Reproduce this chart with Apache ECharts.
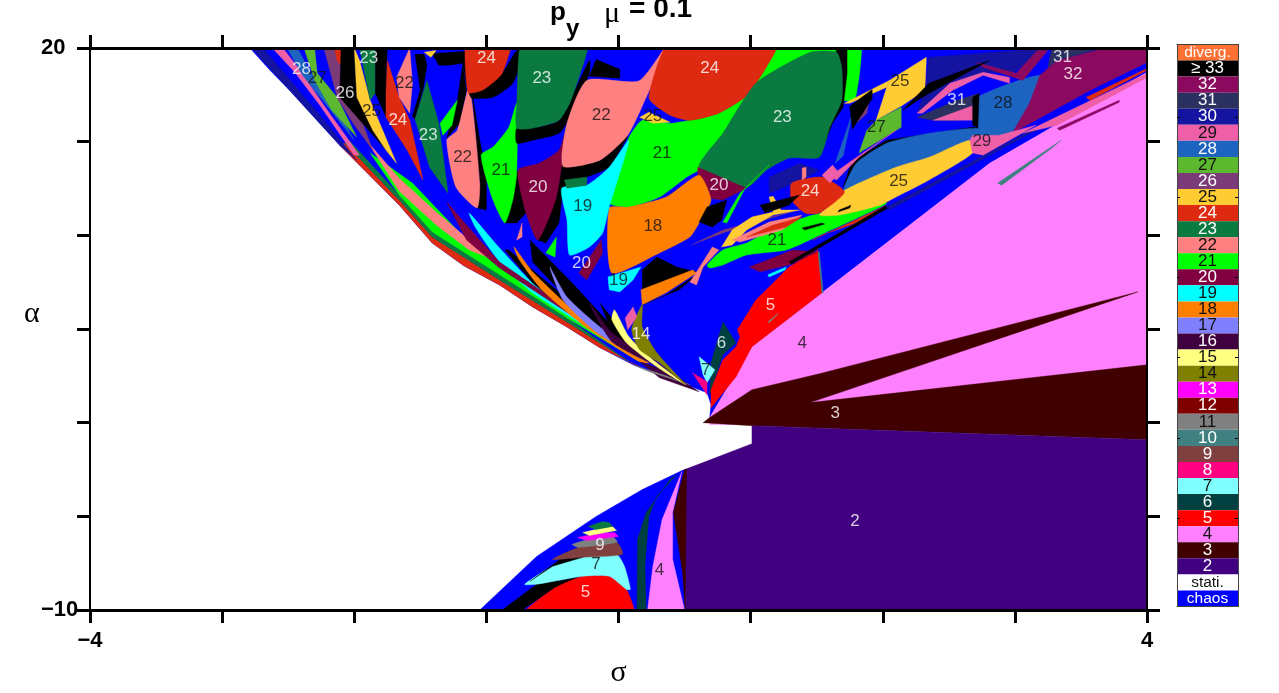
<!DOCTYPE html>
<html><head><meta charset="utf-8">
<style>html,body{margin:0;padding:0;background:#fff}#c{width:1279px;height:693px}</style>
<script src="https://cdn.jsdelivr.net/npm/echarts@6/dist/echarts.min.js"></script>
</head><body><div id="c"></div>
<script>
// legend (top to bottom)
const legendLabels=['diverg.','≥ 33','32','31','30','29','28','27','26','25','24','23','22','21','20','19','18','17','16','15','14','13','12','11','10','9','8','7','6','5','4','3','2','stati.','chaos'];
const legendColors=['#ff7033','#000000','#8b0a5f','#2a3060','#1414a0','#ee5fa7','#1c64c0','#5cb82e','#7b3a78','#ffcc33','#dd2a10','#0a7a40','#ff8080','#00ff00','#800040','#00ffff','#ff8000','#8080ff','#400040','#ffff80','#808000','#ff00ff','#800000','#808080','#408080','#804040','#ff0080','#80ffff','#004040','#ff0000','#ff80ff','#400000','#400080','#ffffff','#0000ff'];
const legendDark=['29','27','25','22','21','19','18','17','15','14','11','7','4','stati.'];
const legendTicks=['30','25','20','15','10','5'];
// axes
const sigmaRange=[-4,4], alphaRange=[-10,20];
const sigmaShown=[-4,4], alphaShown=[20,-10];

// basin outlines, as [sigma, alpha]
const chaosUpper=[[-2.79,20],[-2.64,18.83],[-2.49,17.74],[-2.11,14.81],[-1.66,11.62],[-1.41,9.59],[-1.17,8.37],[-0.9,7.35],[-0.65,6.18],[-0.39,5.11],[-0.14,4],[0.11,3.09],[0.36,2.4],[0.51,2.02],[0.67,1.6],[0.7,0.96],[0.69,0.27],[1.01,4.05],[1.54,6.93],[2.81,13.85],[4,18.7],[4,20]];
const pink4Right=[[0.69,0.27],[1.01,4.05],[1.54,6.93],[2.81,13.85],[4,18.7],[4,-0.1],[0.69,-0.1]];
const dark3=[[0.64,0],[0.69,0.27],[1.01,1.76],[1.52,2.61],[3.93,6.98],[1.45,1.07],[4,3.09],[4,-0.91],[1.01,-0.16]];
const period2=[[1.01,-0.16],[4,-0.91],[4,-10],[0.5,-10],[0.5,-2.5],[0.64,-2.13],[1.01,-1.12]];
const chaosLower=[[-1.05,-10],[-0.62,-7.14],[-0.17,-5.01],[0.18,-3.57],[0.48,-2.56],[0.5,-2.5],[0.5,-10]];
const pink4Lower=[[0.22,-10],[0.26,-7.67],[0.33,-5.17],[0.48,-2.61],[0.41,-4.8],[0.41,-7.3],[0.5,-10]];
const stripeLower=[[0.5,-2.5],[0.515,-2.5],[0.505,-10],[0.485,-8],[0.415,-4.8]];
const dark6Lower=[[0.14,-10],[0.144,-6.23],[0.21,-4.8],[0.39,-3.04],[0.44,-2.77],[0.29,-3.94],[0.23,-5.01],[0.2,-7.67],[0.21,-10]];
const stripeLeft=[[-0.88,-10],[-0.62,-8.63],[-0.27,-8.2],[-0.5,-8.9],[-0.73,-10]];
const red5Lower=[[-0.76,-10.5],[-0.5,-8.9],[-0.27,-8.2],[-0.07,-8.2],[0.06,-8.9],[0.12,-10.5]];
const cyan7Lower=[[-0.71,-8.63],[-0.5,-7.67],[-0.27,-7.19],[-0.015,-7.03],[0.045,-7.67],[0.09,-8.9],[0.06,-8.9],[-0.07,-8.2],[-0.27,-8.2],[-0.62,-8.63]];
const blackLower=[[-0.67,-8.47],[-0.37,-6.93],[-0.3,-6.66],[-0.27,-7.19],[-0.5,-7.67]];
const brown9=[[-0.5,-7.3],[-0.3,-6.66],[-0.015,-6.39],[0.03,-7.03],[-0.27,-7.19]];
const gray11=[[-0.35,-6.5],[-0.17,-6.13],[-0.045,-6.07],[-0.01,-6.39],[-0.3,-6.66]];
const mag13=[[-0.31,-6.13],[-0.16,-5.91],[-0.03,-5.86],[0,-6.07],[-0.24,-6.29]];
const yellow15Lower=[[-0.27,-5.86],[-0.14,-5.65],[-0.045,-5.54],[-0.015,-5.75],[-0.22,-6.02]];
const green23Lower=[[-0.23,-5.54],[-0.12,-5.27],[-0.07,-5.33],[-0.045,-5.54],[-0.17,-5.7]];
// fan along the upper boundary
const edgeOuter=[[-2.11,14.81],[-1.66,11.62],[-1.41,9.59],[-1.17,8.37],[-0.9,7.35],[-0.65,6.18],[-0.39,5.11],[-0.14,4],[0.16,2.98],[0.08,3.25],[-0.39,5.38],[-0.9,7.62],[-1.41,9.91],[-1.66,11.88],[-2.07,14.92]];
const edgeInner=[[-2.07,14.92],[-1.66,11.88],[-1.41,9.91],[-0.9,7.62],[-0.39,5.38],[0.08,3.25],[-0.39,5.59],[-0.9,7.89],[-1.41,10.18],[-1.66,12.15],[-2.04,15.08]];
const fan21=[[-1.88,14.4],[-1.56,12.79],[-1.15,9.75],[-0.9,8.26],[-0.65,7.09],[-0.27,5.38],[0.16,3.25],[-0.39,5.59],[-0.9,7.89],[-1.41,10.18],[-1.66,12.15]];
const fan22=[[-1.9,15],[-1.66,13.05],[-1.38,11.24],[-1.13,9.75],[-0.9,8.58],[-1.13,9.22],[-1.38,10.55],[-1.66,12.36]];
const fan20=[[-1.3,11.77],[-1.05,9.75],[-0.9,8.58],[-0.65,7.36],[-0.27,5.59],[0.16,3.36],[-0.27,5.33],[-0.65,7.09],[-0.9,8.26],[-1.15,9.75]];
const fan19=[[-1.13,11.19],[-0.9,9.32],[-0.65,7.46],[-0.27,5.38],[0.16,3.36],[-0.27,5.22],[-0.65,6.93],[-0.9,8.58],[-1.08,10.39]];
const fanBlackA=[[-0.83,9.22],[-0.65,8.15],[-0.27,5.91],[0.16,3.46],[-0.27,5.38],[-0.65,7.46],[-0.86,9.22]];
const fan18=[[-0.79,9.38],[-0.65,8.05],[-0.39,6.29],[-0.07,4.42],[0.23,3.2],[0.16,3.25],[-0.27,5.22],[-0.58,7.09],[-0.75,8.68]];
const fanBlackB=[[-0.67,9.75],[-0.35,7.46],[0.01,4.69],[-0.14,4.96],[-0.45,7.09],[-0.65,8.58]];
const fan17=[[-0.52,8.31],[-0.39,6.71],[-0.14,5.11],[0.11,3.89],[0.23,3.25],[0.16,3.46],[-0.17,4.85],[-0.42,6.55]];
const fanBlackC=[[-0.14,6.39],[0.05,4.69],[0.23,3.62],[-0.03,4.53]];
const fan16=[[-0.22,6.39],[-0.05,4.8],[0.21,3.62],[0.39,2.72],[0.16,3.46],[-0.05,4.32],[-0.17,5.65]];
const tail16=[[0.16,3.25],[0.39,2.72],[0.61,1.65],[0.31,2.4]];
const tail11=[[0.11,3.09],[0.36,2.5],[0.54,2.02],[0.23,2.72]];
// top-left lobes
const navy30a=[[-2.78,20],[-2.69,20],[-2.26,16.41],[-1.98,14.01],[-2.11,14.81]];
const pink29a=[[-2.62,20],[-2.54,20],[-2.41,18.81],[-2.23,16.94],[-1.96,14.28],[-2,14.28],[-2.26,16.94],[-2.45,18.7]];
const blue28a=[[-2.51,20],[-2.43,20],[-2.3,18.27],[-2.11,16.52],[-2,15.08],[-2.24,17.21],[-2.39,18.54]];
const green27a=[[-2.38,20],[-2.3,20],[-2.28,18.65],[-2.13,17.37],[-1.98,15.24],[-2.17,16.68],[-2.3,18.27]];
const purple26a=[[-2.23,20],[-2.15,20],[-2.09,18.65],[-2,17.21],[-1.86,14.55],[-2.01,15.98],[-2.13,17.37]];
const red24a=[[-2.15,20],[-2.1,20],[-2.06,18.65],[-2.13,19.34]];
const blackA=[[-2.1,20],[-2,20],[-1.98,17.37],[-1.86,15.61],[-1.76,14.55],[-2.11,17.37]];
const yellow25a=[[-2,20],[-1.96,19.34],[-1.88,17.21],[-1.68,13.85],[-1.76,14.55],[-1.86,15.61],[-1.98,17.37]];
const green23a=[[-1.96,20],[-1.84,20],[-1.84,17.58],[-1.88,17.21]];
const blackB=[[-1.84,20],[-1.75,20],[-1.76,17.58],[-1.76,16.3],[-1.84,17.58]];
const red24b=[[-1.75,19.34],[-1.66,17.37],[-1.58,16.14],[-1.48,12.95],[-1.6,14.55],[-1.76,16.3],[-1.76,17.58]];
const salmon22a=[[-1.58,20],[-1.56,18.12],[-1.58,16.52],[-1.66,17.37],[-1.68,18.43]];
const blackC=[[-1.54,16.2],[-1.48,17.74],[-1.45,19.08],[-1.47,19.66],[-1.54,19.66],[-1.5,17.74],[-1.56,16.36]];
const green23b=[[-1.45,18.27],[-1.36,15.98],[-1.29,12.25],[-1.43,13.64],[-1.54,16.2]];
const blackS=[[-1.41,19.71],[-1.14,19.82],[-1.14,17.74],[-1.18,19.18],[-1.28,19.08],[-1.36,19.08]];
const blackT=[[-1.22,17.21],[-1.18,19.08],[-1.15,17.74],[-1.2,15.98],[-1.3,15.2]];
const green21a=[[-1.22,17.21],[-1.26,15.88],[-1.33,15.34],[-1.35,15.98]];
const blackD=[[-1.11,17.74],[-1.05,12.79],[-1.07,11.46],[-1,11.35],[-1,13.32],[-1.05,15.08]];
const salmon22b=[[-1.13,17.9],[-1.05,12.79],[-1.07,11.46],[-1.23,12.57],[-1.3,15.08],[-1.22,15.61]];
const blackE=[[-1.13,17.64],[-1.03,17.74],[-0.88,18.65],[-0.77,19.87],[-0.71,19.87],[-0.8,18.12],[-0.95,17.37],[-1.11,17.32]];
const red24c=[[-1.14,21],[-0.8,21],[-0.88,18.65],[-1.03,17.74],[-1.14,17.64]];
const yellow25b=[[-1.47,19.77],[-1.38,19.87],[-1.42,19.5]];
const blackG=[[-0.77,13.32],[-0.76,13.48],[-0.7,11.19],[-0.77,10.66],[-0.86,10.66]];
const green21b=[[-0.77,17.05],[-0.77,13.32],[-0.8,11.88],[-0.86,10.66],[-0.95,11.88],[-1.04,14.28],[-0.95,14.71],[-0.83,15.77]];
const blackH=[[-0.77,15.72],[-0.65,15.72],[-0.45,16.14],[-0.22,19.34],[-0.22,18.65],[-0.35,16.52],[-0.45,15.45],[-0.65,15.08],[-0.77,14.92]];
const green23c=[[-0.71,21],[-0.22,21],[-0.35,17.37],[-0.45,16.14],[-0.65,15.72],[-0.77,15.72],[-0.77,17.05]];
const blackI=[[-0.61,9.75],[-0.47,12.04],[-0.39,15.82],[-0.42,12.57],[-0.45,10.66],[-0.55,9.59]];
const maroon20a=[[-0.39,15.82],[-0.47,12.04],[-0.61,9.75],[-0.7,11.19],[-0.76,13.48],[-0.6,13.85],[-0.45,14.55]];
const blackU=[[-0.22,18.49],[0.01,18.38],[0.01,18.86],[-0.17,19.39]];
const blackJ=[[-0.42,13.69],[-0.14,14.01],[0.07,15.34],[-0.07,13.64],[-0.24,13.11],[-0.42,12.57]];
const salmon22c=[[-0.24,18.27],[0.16,18.27],[0.44,21],[0.21,17.37],[0.07,15.34],[-0.14,14.01],[-0.42,13.69],[-0.39,15.98]];
const green21c=[[0.08,15.24],[0.18,16.14],[0.39,15.98],[0.54,16.14],[0.76,16.52],[0.99,17.58],[1.29,21],[1.82,21],[1.79,17.21],[1.67,17.21],[1.52,16.68],[0.54,13.21],[0.31,12.04],[0.08,11.51],[-0.07,11.72],[-0.015,13.32]];
const red24d=[[0.44,21],[1.24,21],[0.99,17.58],[0.76,16.52],[0.54,16.14],[0.39,16.41],[0.23,17.37]];
const yellow25c=[[0.16,16.3],[0.23,16.57],[0.39,16.04],[0.26,15.98]];
const blackK=[[1.65,20],[1.73,20],[1.73,18.65],[1.7,16.84],[1.62,15.98],[1.52,14.17],[1.56,15.61]];
const green23d=[[1.45,19.77],[1.65,19.77],[1.69,18.97],[1.69,17.21],[1.6,15.77],[1.52,14.17],[1.29,14.12],[1.12,13.48],[0.97,12.57],[0.61,13.64],[0.79,15.45],[1.04,18.12]];
const maroon20b=[[0.6,13.64],[0.97,12.52],[0.79,11.88],[0.67,11.99],[0.6,12.57]];
const orange18a=[[-0.07,11.46],[0.08,11.51],[0.36,12.04],[0.61,13.21],[0.7,11.88],[0.61,10.66],[0.54,9.91],[0.31,9.06],[-0.05,7.99]];
const cyan19a=[[-0.43,12.52],[-0.24,12.68],[-0.07,13.64],[0.08,15.08],[-0.07,11.51],[-0.12,10.12],[-0.22,9.38],[-0.37,8.95],[-0.39,10.82]];
const green23e=[[-0.41,12.95],[-0.24,13.11],[-0.24,12.68],[-0.39,12.52]];
const cyan19b=[[-0.08,7.78],[0.17,8.31],[0.11,7.62],[0.01,6.98],[-0.07,7.09]];
const maroon20c=[[-0.3,7.99],[-0.13,9.75],[-0.12,9.06],[-0.24,7.62]];
const green21e=[[-0.55,9.06],[-0.47,9.91],[-0.48,8.84]];
const salmon22d=[[-0.77,9.75],[-0.73,10.66],[-0.73,9.91]];
const blackL=[[0.18,7.09],[0.18,8.15],[0.29,8.84],[0.44,8.31],[0.59,8.05],[0.36,7.25]];
const blackV=[[0.18,6.29],[0.36,6.82],[0.61,7.99],[0.46,7.09]];
const orange18b=[[0.17,7.09],[0.56,8.15],[0.59,7.99],[0.36,6.93],[0.18,6.29]];
const olive14=[[0.18,6.29],[0.18,5.11],[0.29,3.73],[0.51,2.02],[0.31,3.2],[0.16,3.89],[0.1,4.96]];
const yellow15Upper=[[-0.03,6.02],[0.08,4.58],[0.26,3.36],[0.51,2.02],[0.29,2.98],[0.06,4.26],[-0.05,5.49]];
const pink29d=[[0.11,6.18],[0.14,5.65],[0.07,4.96],[0.05,5.59]];
const dark6Upper=[[0.79,5.38],[0.89,4.26],[0.79,3.62],[0.69,1.49],[0.7,3.2]];
const cyan7Upper=[[0.61,3.52],[0.73,2.82],[0.67,2.13],[0.64,2.56]];
const rose8=[[0.56,2.66],[0.67,2.18],[0.67,1.49],[0.61,2.13]];
const red5Upper=[[1.51,9.22],[1.54,6.93],[1.01,4.05],[0.89,2.45],[0.7,0.8],[0.7,1.76],[0.79,3.36],[0.89,4.05],[0.92,4.58],[0.9,4.96],[1.04,6.55],[1.17,7.46],[1.29,8.31]];
const teal10Edge=[[1.51,9.11],[1.52,9.11],[1.55,6.93],[1.54,6.93]];
const gray11Sliver=[[1.13,5.38],[1.21,5.86],[1.2,5.75],[1.14,5.33]];
const maroon20d=[[0.99,8.31],[1.32,9.22],[1.51,9.11],[1.29,8.42],[1.07,8.05]];
const cyan19c=[[1.13,7.89],[1.27,8.31],[1.26,8.15],[1.14,7.78]];
const green21d=[[0.67,8.42],[0.79,9.22],[0.97,9.59],[1.14,10.23],[1.47,11.08],[2.03,11.72],[1.48,9.86],[1.27,9.22],[0.97,8.95],[0.79,8.42],[0.69,8.26]];
const blackW=[[1.39,10.39],[1.54,10.66],[1.56,10.6],[1.41,10.28]];
const red24f=[[1.47,9.75],[2.03,11.61],[1.8,10.66],[1.54,10.02]];
const blackX=[[1.29,8.58],[2.02,11.56],[2.04,11.46],[1.31,8.47]];
const navy30c=[[2.03,11.51],[3.19,15.88],[3.19,15.72],[2.05,11.35]];
const yellow25d=[[1.71,12.41],[2.1,13.64],[2.35,14.17],[2.66,15.08],[2.68,14.39],[2.35,12.95],[2.1,12.04],[1.98,11.61],[1.67,11.08],[1.52,11.08],[1.62,11.72]];
const blackY=[[1.67,11.35],[1.76,11.61],[1.75,11.46],[1.66,11.24]];
const blackM=[[1.7,12.57],[1.77,14.01],[2.03,15.08],[2.68,15.77],[2.76,15.77],[2.7,15.45],[2.03,14.71],[1.8,13.64]];
const blue28b=[[1.71,12.41],[1.8,13.85],[2.03,14.92],[2.35,15.45],[2.71,15.72],[2.98,15.45],[2.66,15.08],[2.35,14.17],[2.1,13.64]];
const blue28c=[[2.73,17.42],[3.19,18.54],[3.11,17.05],[2.98,15.45],[2.73,15.72],[2.71,16.52]];
const maroon32=[[3.19,18.54],[3.32,19.34],[3.69,20],[4,20],[4,19.23],[3.57,17.74],[2.98,15.45],[3.11,17.05]];
const navy31b=[[3.28,20],[3.66,20],[3.32,19.34],[3.25,18.97]];
const pink29b=[[2.66,15.08],[2.68,15.34],[2.88,15.34],[3.16,15.88],[2.76,14.28],[2.68,14.39]];
const red24e=[[1.31,12.79],[1.54,13.11],[1.71,12.31],[1.52,11.19],[1.41,11.19],[1.31,11.88]];
const salmon22e=[[1.39,13.59],[1.42,13.64],[1.42,13.11],[1.39,12.95]];
const yellow25e=[[2.05,18.27],[2.33,19.5],[2.32,17.74],[2.15,16.94],[1.95,16.14],[2.03,17.9]];
const yellow25f=[[1.71,17.05],[2.05,18.27],[2.03,17.9],[1.75,17.05]];
const green27b=[[1.95,16.14],[2.14,16.84],[2.14,15.77],[1.82,14.39],[1.88,15.61]];
const navy31a=[[2.26,16.3],[2.56,17.21],[2.73,17.58],[2.71,17.21],[2.57,16.14],[2.38,16.14]];
const navy30b=[[2.35,19.5],[3.26,20],[3.16,19.5],[2.98,18.65],[2.76,18.7],[2.51,18.12],[2.26,16.52],[2.32,17.74]];
const pink29c=[[2.26,16.52],[2.51,18.12],[2.76,18.7],[2.96,18.43],[2.96,18.12],[2.76,18.54],[2.53,17.74],[2.3,16.52]];
const pink29g=[[2.38,16.14],[2.71,17.0],[2.71,16.14]];
const maroon32b=[[2.71,19.23],[3.01,18.65],[3.17,19.87],[3.25,19.87],[3.06,18.27],[2.76,18.97]];
const blackN=[[2.68,17.37],[2.73,17.58],[2.72,15.77],[2.68,15.88]];
const pink29e=[[1.54,13.21],[1.62,13.75],[1.67,13.32],[1.6,12.79]];
const pink29f=[[3.06,15.45],[4,18.65],[4,18.43],[3.32,15.88]];
const pink29h=[[1.6,13.16],[1.77,14.01],[2.1,15.61],[1.82,14.17],[1.65,12.95]];
const blue28d=[[1.64,13.85],[1.77,16.52],[1.7,14.23]];
const purple26b=[[1.8,15.98],[1.9,17.26],[1.88,16.52]];
const blackZ=[[1.75,16.89],[1.92,17.79],[1.92,17.31],[1.77,15.66]];
const red24g=[[3.54,17.37],[4,18.91],[4,18.81],[3.57,17.21]];
const maroon32c=[[3.32,15.72],[3.79,17.21],[3.79,17.11],[3.34,15.61]];
const teal10=[[2.87,12.79],[3.35,15.08],[3.29,14.71],[2.9,12.68]];
const yellow25g=[[0.78,9.38],[0.86,10.28],[1.01,10.98],[1.17,11.24],[1.14,12.04],[1.17,12.09],[1.23,11.35],[1.37,11.35],[1.17,11.08],[0.97,10.28],[0.86,9.48]];
const salmon22f=[[0.86,9.75],[1.14,10.71],[1.39,11.08],[1.24,10.28],[0.92,9.64]];
const red24h=[[0.97,9.91],[1.17,10.55],[1.39,10.98],[1.27,10.44]];
const purple26c=[[0.55,9.49],[0.79,10.28],[1.35,11.35],[0.79,10.12]];
const green21f=[[0.79,10.71],[0.92,12.25],[1.14,13.75],[0.95,12.41],[0.82,10.66]];
const navy30d=[[1.14,13.11],[1.37,13.85],[1.52,13.48],[1.39,12.95],[1.14,12.25]];
const blackO=[[0.61,10.71],[0.67,11.51],[0.82,11.88],[0.78,10.82],[0.71,10.44]];
const salmon22g=[[0.54,7.51],[0.59,7.35],[0.64,8.31],[0.76,9.22],[0.71,9.38],[0.61,8.26]];
const blackQ=[[1.07,11.61],[1.37,12.15],[1.29,11.61],[1.11,11.19]];
const blackR=[[2.15,16.68],[2.35,18.12],[2.81,19.34],[2.35,17.58]];

// paint order: outline + legend label of its period
const paintOrder=[
[chaosUpper,'chaos'],[pink4Right,'4'],[dark3,'3'],[period2,'2'],[chaosLower,'chaos'],[pink4Lower,'4'],[stripeLower,'3'],[dark6Lower,'6'],
[stripeLeft,'≥ 33'],[red5Lower,'5'],[cyan7Lower,'7'],[blackLower,'≥ 33'],[brown9,'9'],[gray11,'11'],[mag13,'13'],[yellow15Lower,'15'],[green23Lower,'23'],
[edgeOuter,'24'],[edgeInner,'23'],[fan21,'21'],[fan22,'22'],[fan19,'19'],[fan20,'20'],[fanBlackA,'≥ 33'],[fanBlackB,'≥ 33'],[fan18,'18'],[fan17,'17'],[fanBlackC,'≥ 33'],[fan16,'16'],[tail16,'16'],[tail11,'11'],
[navy30a,'30'],[pink29a,'29'],[blue28a,'28'],[green27a,'27'],[purple26a,'26'],[red24a,'24'],[blackA,'≥ 33'],[yellow25a,'25'],[green23a,'23'],[blackB,'≥ 33'],[red24b,'24'],[salmon22a,'22'],[blackC,'≥ 33'],[green23b,'23'],[blackS,'≥ 33'],[blackT,'≥ 33'],[green21a,'21'],[blackD,'≥ 33'],[salmon22b,'22'],[blackE,'≥ 33'],[red24c,'24'],[yellow25b,'25'],[blackG,'≥ 33'],[green21b,'21'],[blackH,'≥ 33'],[green23c,'23'],[blackI,'≥ 33'],[maroon20a,'20'],[blackU,'≥ 33'],[blackJ,'≥ 33'],[salmon22c,'22'],[green21c,'21'],[red24d,'24'],[yellow25c,'25'],[blackK,'≥ 33'],[green23d,'23'],[maroon20b,'20'],[orange18a,'18'],[cyan19a,'19'],[green23e,'23'],[cyan19b,'19'],[maroon20c,'20'],[green21e,'21'],[salmon22d,'22'],[blackL,'≥ 33'],[blackV,'≥ 33'],[orange18b,'18'],[yellow15Upper,'15'],[olive14,'14'],[pink29d,'29'],[dark6Upper,'6'],[cyan7Upper,'7'],[rose8,'8'],[red5Upper,'5'],[teal10Edge,'10'],[gray11Sliver,'11'],[maroon20d,'20'],[cyan19c,'19'],[green21d,'21'],[blackW,'≥ 33'],[red24f,'24'],[blackX,'≥ 33'],[navy30c,'30'],[blackM,'≥ 33'],[blue28b,'28'],[yellow25d,'25'],[blackY,'≥ 33'],[blue28c,'28'],[maroon32,'32'],[navy31b,'31'],[pink29b,'29'],[navy30d,'30'],[red24e,'24'],[salmon22e,'22'],[yellow25f,'25'],[yellow25e,'25'],[green27b,'27'],[navy30b,'30'],[navy31a,'31'],[pink29c,'29'],[pink29g,'29'],[maroon32b,'32'],[blackN,'≥ 33'],[pink29e,'29'],[pink29f,'29'],[pink29h,'29'],[blue28d,'28'],[purple26b,'26'],[blackZ,'≥ 33'],[red24g,'24'],[maroon32c,'32'],[teal10,'10'],[green21f,'21'],[purple26c,'26'],[yellow25g,'25'],[salmon22f,'22'],[red24h,'24'],[blackO,'≥ 33'],[salmon22g,'22'],[blackQ,'≥ 33'],[blackR,'≥ 33']
];
// outlines that are curved in the picture
const curvedOutlines=[green23c,red24d,red24c,salmon22c,green21b,salmon22b,maroon20a,cyan19a,orange18a,green23d,green21c,red5Lower,cyan7Lower,yellow25d,blue28b,blackH,blackJ,blackE,fan17,fan18,fan19,fan16,olive14,yellow15Upper,green21d,red24e,blue28c,brown9,gray11];
// period numbers written on the basins: [sigma, alpha, text]
const labelsWhite=[[-2.4,18.86,'28'],[-2.07,17.58,'26'],[-1.67,16.14,'24'],[-1.89,19.45,'23'],[-1.44,15.34,'23'],[-1,19.45,'24'],[-0.58,18.38,'23'],[-0.61,12.57,'20'],[-0.28,8.52,'20'],[0.17,4.74,'14'],[0.69,18.91,'24'],[1.24,16.3,'23'],[0.76,12.68,'20'],[1.45,12.36,'24'],[2.56,17.21,'31'],[3.36,19.5,'31'],[3.44,18.6,'32'],[1.15,6.29,'5'],[0.78,4.26,'6'],[1.64,0.48,'3'],[1.79,-5.27,'2'],[-0.14,-6.55,'9'],[-0.25,-9.06,'5']];
const labelsBlack=[[-2.28,18.38,'27'],[-1.87,16.62,'25'],[-1.62,18.12,'22'],[-1.18,14.17,'22'],[-0.89,13.48,'21'],[-0.13,16.41,'22'],[0.26,16.36,'25'],[0.33,14.39,'21'],[-0.27,11.56,'19'],[0.26,10.5,'18'],[0,7.62,'19'],[2.13,18.22,'25'],[1.95,15.77,'27'],[2.91,17.05,'28'],[2.75,15.03,'29'],[2.12,12.89,'25'],[1.2,9.75,'21'],[0.66,2.82,'7'],[1.39,4.26,'4'],[-0.17,-7.57,'7'],[0.31,-7.89,'4']];

const SANS='"Liberation Sans",Arial,sans-serif', SERIF='"Liberation Serif",serif';
const colorOf=l=>legendColors[legendLabels.indexOf(l)];
const polyData=paintOrder.map((r,i)=>[r[0][0][0],r[0][0][1],i]);
const tickFmt=(shown)=>v=>shown.includes(v)?String(v).replace('-','\u2212'):'';
const mainAxisCommon={axisLine:{show:true,onZero:false,lineStyle:{color:'#000',width:3}},axisTick:{show:true,length:13,lineStyle:{color:'#000',width:3}},splitLine:{show:false},z:10};
const hiddenLabel={axisLabel:{show:false}};
const markLabels=(arr,color)=>({type:'scatter',xAxisIndex:0,yAxisIndex:0,data:arr,symbolSize:1,itemStyle:{color:'transparent'},z:6,silent:true,
  label:{show:true,position:'inside',color,fontFamily:SANS,fontSize:17,formatter:p=>p.value[2]}});
const titleText=(text,left,top,fontFamily,fontSize,fontWeight)=>({text,left,top,padding:0,textStyle:{fontFamily,fontSize,fontWeight,color:'#000'}});
const chart=echarts.init(document.getElementById('c'),null,{renderer:'canvas'});
chart.setOption({
 animation:false,backgroundColor:'#fff',
 title:[
  titleText('p',550,0,SANS,26,'bold'),
  titleText('y',566,17,SANS,24,'bold'),
  titleText('\u03bc',604,-1,SERIF,30,'normal'),
  titleText('= 0.1',629,-5,SANS,28,'bold'),
  titleText('\u03b1',24,299,SERIF,30,'normal')
 ],
 grid:[{left:90,right:132,top:48,bottom:82},{left:1177,width:61,top:44.5,height:562}],
 xAxis:[
  {...mainAxisCommon,type:'value',gridIndex:0,position:'bottom',min:sigmaRange[0],max:sigmaRange[1],interval:1,
   name:'\u03c3',nameLocation:'middle',nameGap:48,nameTextStyle:{fontFamily:SERIF,fontSize:30,color:'#000'},
   axisLabel:{show:true,margin:20,showMinLabel:true,showMaxLabel:true,formatter:tickFmt(sigmaShown),fontFamily:SANS,fontWeight:'bold',fontSize:22,color:'#000',hideOverlap:false}},
  {...mainAxisCommon,...hiddenLabel,type:'value',gridIndex:0,position:'top',min:sigmaRange[0],max:sigmaRange[1],interval:1},
  {type:'value',gridIndex:1,min:0,max:1,position:'top',axisLine:{show:true,onZero:false,lineStyle:{color:'#444',width:1}},axisTick:{show:false},axisLabel:{show:false},splitLine:{show:false},z:8},
  {type:'value',gridIndex:1,min:0,max:1,position:'bottom',axisLine:{show:true,onZero:false,lineStyle:{color:'#444',width:1}},axisTick:{show:false},axisLabel:{show:false},splitLine:{show:false},z:8}
 ],
 yAxis:[
  {...mainAxisCommon,type:'value',gridIndex:0,position:'left',min:alphaRange[0],max:alphaRange[1],interval:5,
   axisLine:{show:true,onZero:false,lineStyle:{color:'#000',width:2}},
   axisLabel:{show:true,margin:49,align:'left',showMinLabel:true,showMaxLabel:true,formatter:tickFmt(alphaShown),fontFamily:SANS,fontWeight:'bold',fontSize:22,color:'#000',hideOverlap:false}},
  {...mainAxisCommon,...hiddenLabel,type:'value',gridIndex:0,position:'right',min:alphaRange[0],max:alphaRange[1],interval:5,
   axisLine:{show:true,onZero:false,lineStyle:{color:'#000',width:2}}},
  {type:'category',gridIndex:1,inverse:true,position:'left',data:legendLabels,axisLine:{show:true,onZero:false,lineStyle:{color:'#444',width:1}},
   axisTick:{show:true,inside:true,alignWithLabel:true,length:3,lineStyle:{color:'#000',width:1},interval:(i,v)=>legendTicks.includes(v)},axisLabel:{show:false},z:8},
  {type:'category',gridIndex:1,inverse:true,position:'right',data:legendLabels,axisLine:{show:true,onZero:false,lineStyle:{color:'#444',width:1}},
   axisTick:{show:true,inside:true,alignWithLabel:true,length:3,lineStyle:{color:'#000',width:1},interval:(i,v)=>legendTicks.includes(v)},axisLabel:{show:false},z:8}
 ],
 series:[
  {type:'custom',coordinateSystem:'cartesian2d',xAxisIndex:0,yAxisIndex:0,clip:true,z:2,silent:true,data:polyData,
   encode:{x:0,y:1},
   renderItem:(params,api)=>{
     const r=paintOrder[api.value(2)];
     const curved=curvedOutlines.includes(r[0]);
     return {type:'polygon',shape:{points:r[0].map(p=>api.coord(p)),smooth:curved?0.2:0},style:{fill:colorOf(r[1]),stroke:colorOf(r[1]),lineWidth:0.4}};
   }},
  markLabels(labelsWhite,'#fff'),
  markLabels(labelsBlack,'#111'),
  {type:'bar',xAxisIndex:2,yAxisIndex:2,barWidth:'100%',silent:true,z:3,
   data:legendLabels.map((l,i)=>({value:1,itemStyle:{color:legendColors[i]},
     label:{show:true,position:'inside',formatter:l,fontFamily:SANS,fontSize:i===0||i>=33?15.5:17,color:legendDark.includes(l)?'#111':'#fff'}}))}
 ]
});
</script></body></html>
